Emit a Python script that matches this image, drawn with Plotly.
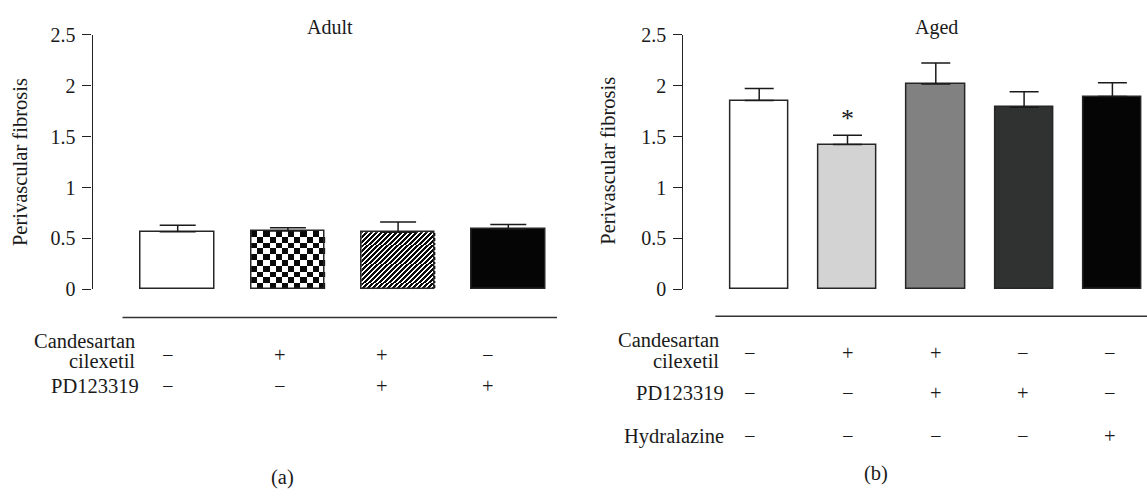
import numpy as np
import plotly.graph_objects as go

W, H = 1147, 502

# ---------------- data ----------------
adult_groups = [0, 1, 2, 3]
adult_values = [0.566, 0.573, 0.561, 0.592]
adult_err = [0.063, 0.031, 0.099, 0.044]

aged_groups = [0, 1, 2, 3, 4]
aged_values = [1.854, 1.422, 2.017, 1.789, 1.895]
aged_err = [0.120, 0.091, 0.207, 0.153, 0.135]
aged_colors = ["#ffffff", "#d3d3d3", "#818181", "#303131", "#050505"]

y_tickvals = [0, 0.5, 1, 1.5, 2, 2.5]
y_ticktext = ["0", "0.5", "1", "1.5", "2", "2.5"]

y_title = "Perivascular fibrosis"
adult_title = "Adult"
aged_title = "Aged"

adult_row_labels = [["Candesartan", "cilexetil"], ["PD123319"]]
adult_rows = [["−", "+", "+", "−"],
              ["−", "−", "+", "+"]]
aged_row_labels = [["Candesartan", "cilexetil"], ["PD123319"], ["Hydralazine"]]
aged_rows = [["−", "+", "+", "−", "−"],
             ["−", "−", "+", "+", "−"],
             ["−", "−", "−", "−", "+"]]
significant = [False, True, False, False, False]

# ---------------- layout helpers ----------------
FONT = "Liberation Serif"
TXT = "#1a1a1a"
FS = 20.5
TFS = 20


def px(x):
    return x / W


def py(y):
    return 1 - y / H


y0_px, y25_px = 291, 25
left_axis_px, left_right_px = 92.5, 557
right_axis_px, right_right_px = 683.4, 1147
left_c0, left_step = 177.7, 110.2
right_c0, right_step = 759.2, 88.3

xr_left = [(left_axis_px - left_c0) / left_step, 3 + (left_right_px - (left_c0 + 3 * left_step)) / left_step]
xr_right = [(right_axis_px - right_c0) / right_step, 4 + (right_right_px - (right_c0 + 4 * right_step)) / right_step]

bw_left = 73.5 / left_step
bw_right = 58.3 / right_step

fig = go.Figure()

units_per_px = 2.5 / (y0_px - y25_px)

# checker texture for the second adult bar (heatmap beneath a transparent bar)
ncols = 12
cell_px = 73.5 / ncols
v = adult_values[1]
nrows = max(1, int(round(v / (cell_px * units_per_px))))
xe = np.linspace(adult_groups[1] - bw_left / 2, adult_groups[1] + bw_left / 2, ncols + 1)
ye = np.linspace(0, v, nrows + 1)
z = [[(i + j) % 2 for j in range(ncols)] for i in range(nrows)]
fig.add_trace(go.Heatmap(x=xe, y=ye, z=z, zmin=0, zmax=1,
                         colorscale=[[0, "#ffffff"], [1, "#0a0a0a"]],
                         showscale=False, hoverinfo="skip", xaxis="x", yaxis="y"))

# diagonal stripe texture for the third adult bar (fine heatmap, '/' direction)
v3 = adult_values[2]
ncx = 74
ncy = max(1, int(round(v3 / units_per_px)))
xe3 = np.linspace(adult_groups[2] - bw_left / 2, adult_groups[2] + bw_left / 2, ncx + 1)
ye3 = np.linspace(0, v3, ncy + 1)
period = 5.0
z3 = [[1 if ((j - i) % period) < 2.7 else 0 for j in range(ncx)] for i in range(ncy)]
fig.add_trace(go.Heatmap(x=xe3, y=ye3, z=z3, zmin=0, zmax=1,
                         colorscale=[[0, "#ffffff"], [1, "#0a0a0a"]],
                         showscale=False, hoverinfo="skip", xaxis="x", yaxis="y"))

fig.add_trace(go.Bar(
    x=adult_groups, y=adult_values, width=bw_left, xaxis="x", yaxis="y",
    marker=dict(color=["#ffffff", "rgba(0,0,0,0)", "rgba(0,0,0,0)", "#050505"],
                line=dict(color="#262626", width=1.5)),
    error_y=dict(type="data", symmetric=False, array=adult_err, arrayminus=[0] * 4,
                 color="#1a1a1a", thickness=1.5, width=18),
    showlegend=False, hoverinfo="skip"))

fig.add_trace(go.Bar(
    x=aged_groups, y=aged_values, width=bw_right, xaxis="x2", yaxis="y2",
    marker=dict(color=aged_colors, line=dict(color="#262626", width=1.5)),
    error_y=dict(type="data", symmetric=False, array=aged_err, arrayminus=[0] * 5,
                 color="#1a1a1a", thickness=1.5, width=14.5),
    showlegend=False, hoverinfo="skip"))

ydom = [py(y0_px), py(y25_px)]
yax = dict(range=[0, 2.5], tickvals=y_tickvals, ticktext=y_ticktext, showline=True,
           linecolor="#222", linewidth=1.2, ticks="outside", ticklen=9, tickwidth=1.2,
           tickcolor="#222", showgrid=False, zeroline=False, domain=ydom,
           ticklabelstandoff=3,
           tickfont=dict(family=FONT, size=TFS, color=TXT), fixedrange=True)
xax = dict(visible=False, showgrid=False, zeroline=False, fixedrange=True)

fig.update_layout(
    width=W, height=H, margin=dict(l=0, r=0, t=0, b=0),
    paper_bgcolor="white", plot_bgcolor="rgba(0,0,0,0)",
    bargap=0, barmode="overlay",
    xaxis=dict(xax, domain=[px(left_axis_px), px(left_right_px)], range=xr_left),
    yaxis=dict(yax, anchor="x"),
    xaxis2=dict(xax, domain=[px(right_axis_px), px(right_right_px)], range=xr_right),
    yaxis2=dict(yax, anchor="x2"),
    font=dict(family=FONT, size=FS, color=TXT),
)

ann = []


def text(x, y, s, xanchor="center", size=FS, **kw):
    ann.append(dict(x=px(x), y=py(y), xref="paper", yref="paper", text=s, showarrow=False,
                    xanchor=xanchor, yanchor="middle", font=dict(family=FONT, size=size, color=TXT), **kw))


# titles
text(330, 17, adult_title, size=20)
text(936, 17, aged_title, size=20)
# y titles
text(20, 158, y_title, textangle=-90)
text(608.6, 157, y_title, textangle=-90)

# table separators
fig.add_shape(type="line", xref="paper", yref="paper", x0=px(122.5), x1=px(557), y0=py(320.5), y1=py(320.5),
              line=dict(color="#333", width=1.5))
fig.add_shape(type="line", xref="paper", yref="paper", x0=px(715.4), x1=px(1147), y0=py(319.3), y1=py(319.3),
              line=dict(color="#333", width=1.5))

# adult table
adult_sign_x = [168, 279.6, 382, 487.5]
adult_row_y = [360, 392]
text(137, 345, adult_row_labels[0][0], xanchor="right")
text(137, 366, adult_row_labels[0][1], xanchor="right")
text(141, 392, adult_row_labels[1][0], xanchor="right")
for r, row in enumerate(adult_rows):
    for c, s in enumerate(row):
        text(adult_sign_x[c], adult_row_y[r], s)

# aged table
aged_sign_x = [750, 847.6, 935.8, 1023.4, 1109.7]
aged_row_y = [358, 400, 445]
text(721, 344, aged_row_labels[0][0], xanchor="right")
text(721, 366, aged_row_labels[0][1], xanchor="right")
text(726.4, 400, aged_row_labels[1][0], xanchor="right")
text(726.4, 445, aged_row_labels[2][0], xanchor="right")
for r, row in enumerate(aged_rows):
    for c, s in enumerate(row):
        text(aged_sign_x[c], aged_row_y[r], s)

# panel letters
text(282, 488, "(a)")
text(875.5, 484, "(b)")

# significance marks
for g, val, e, sig in zip(aged_groups, aged_values, aged_err, significant):
    if sig:
        ann.append(dict(x=g, y=val + e, xref="x2", yref="y2", text="*", showarrow=False,
                        xanchor="center", yanchor="bottom", yshift=0,
                        font=dict(family=FONT, size=26, color=TXT)))

fig.update_layout(annotations=ann)
fig.write_html("out.html")
